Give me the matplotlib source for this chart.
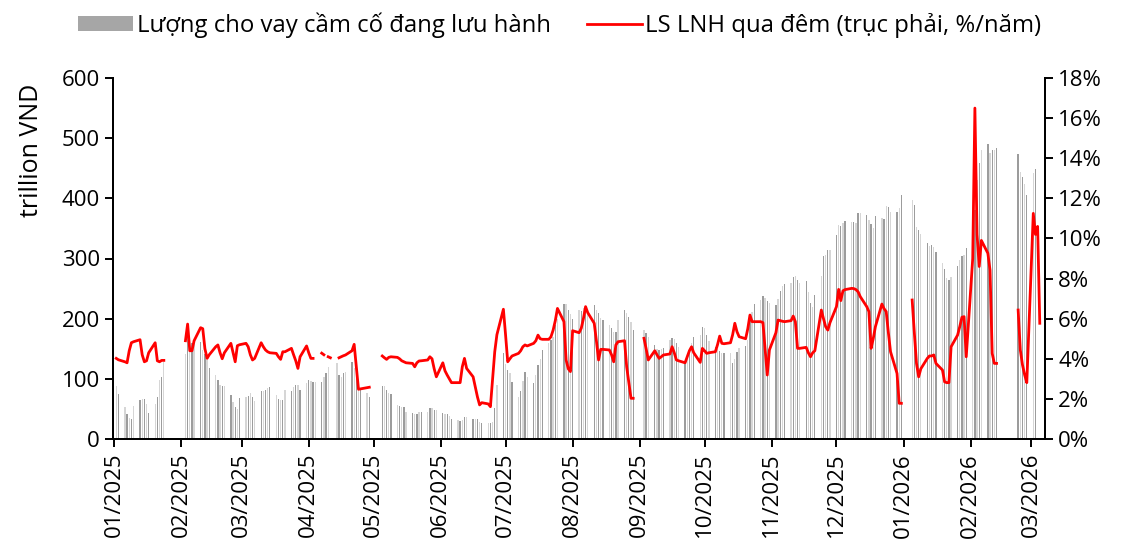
import numpy as np
import pandas as pd
import matplotlib
matplotlib.use('Agg')
import matplotlib.pyplot as plt
import matplotlib.dates as mdates
from matplotlib.patches import Patch
from matplotlib.lines import Line2D
from matplotlib.ticker import FuncFormatter

nan = np.nan

# Data: one value per business day of each month (nan = no data) ###########
months = ['2025-01', '2025-02', '2025-03', '2025-04', '2025-05', '2025-06',
          '2025-07', '2025-08', '2025-09', '2025-10', '2025-11', '2025-12',
          '2026-01', '2026-02', '2026-03']

# outstanding repo loans, trillion VND
loans = [
    [nan, 88, 75, 54, 42, 35, 33, 55, 65, 67, 66, 58, 43, 58, 69, 98, 103, 128, nan, nan, nan, nan, nan],
    [142, 176, 162, 159, 160, 162, 148, 142, 131, 118, 106, 98, 90, 88, 88, 73, 62, 54, 50, 68],
    [70, 71, 76, 70, 63, 80, 79, 81, 85, 86, 73, 66, 65, 65, 81, 80, 86, 90, 90, 81, 93],
    [98, 96, 95, 95, 94, 103, 110, 120, nan, 127, 106, 103, 110, 111, 128, 118, 113, 81, 81, 76, 70, nan],
    [nan, nan, 88, 88, 81, 77, 75, 56, 55, 54, 53, 45, 44, 42, 42, 45, 45, 45, 52, 51, 49, 49],
    [43, 42, 41, 38, 34, 32, 30, 31, 37, 36, 34, 33, 33, 29, 26, 26, 26, 29, 51, 90, 143],
    [125, 115, 110, 95, 70, 79, 96, 112, 103, 93, 106, 123, 133, 148, 160, 165, 170, 190, 200, 225, 224, 214, 208],
    [200, 214, 213, 218, 220, 214, 223, 215, 210, 201, 198, 189, 184, 178, 178, 198, 214, 209, 203, 195, 181],
    [nan, nan, 181, 176, 170, 156, 150, 148, 150, 151, 164, 168, 167, 160, 153, 130, 140, 150, 160, 170, 173, 186],
    [184, 173, 163, 153, 150, 146, 143, 143, 143, 127, 133, 145, 151, 154, 164, 203, 211, 224, 231, 237, 234, 230, 226],
    [222, 232, 246, 254, 258, 259, 270, 271, 264, 259, 263, 245, 226, 220, 239, 271, 304, 306, 314, 314],
    [339, 355, 354, 359, 362, 361, 360, 359, 375, 375, 372, 364, 357, 351, 370, 367, 365, 387, 385, 378, 378, 384, 405],
    [nan, nan, 397, 389, 353, 347, 341, 325, 320, 322, 319, 310, 293, 283, 267, 265, 270, 287, 297, 304, 306, 317],
    [330, 380, 430, 458, 481, 491, 475, 481, 480, 484, nan, nan, nan, nan, nan, 474, 444, 435, 424, 405],
    [442, 449, nan, nan, nan],
]

# overnight interbank rate, %/year
rates = [
    [nan, 4.02, 3.95, 3.85, 3.8, 4.4, 4.8, 4.85, 4.95, 4.2, 3.85, 3.9, 4.3, 4.8, 3.9, 3.85, 3.92, 3.92, nan, nan, nan, nan, nan],
    [4.9, 5.73, 4.4, 4.4, 4.9, 5.55, 5.5, 4.5, 4.02, 4.2, 4.6, 4.69, 4.3, 4.0, 4.3, 4.77, 4.3, 3.85, 4.65, 4.7],
    [4.77, 4.6, 4.2, 3.94, 4.02, 4.8, 4.6, 4.44, 4.35, 4.3, 4.27, 4.1, 3.97, 4.35, 4.35, 4.52, 4.2, 3.9, 3.52, 4.1, 4.64],
    [4.3, 4.02, 4.02, nan, 4.28, 4.2, nan, 4.1, 4.05, nan, 4.05, 4.1, 4.15, 4.19, 4.4, 4.72, 3.6, 2.48, 2.5, 2.56, 2.58, nan],
    [nan, nan, 4.14, 4.05, 3.97, 4.07, 4.1, 4.07, 4.0, 3.9, 3.85, 3.8, 3.77, 3.6, 3.8, 3.89, 3.9, 3.94, 4.1, 4.0, 3.5, 3.1],
    [3.8, 3.4, 3.19, 3.0, 2.81, 2.81, 2.81, 3.6, 4.02, 3.52, 3.1, 2.6, 2.1, 1.7, 1.81, 1.75, 1.61, 3.0, 4.35, 5.2, 6.47],
    [5.2, 3.85, 4.0, 4.14, 4.27, 4.4, 4.6, 4.69, 4.64, 4.77, 4.9, 5.18, 5.0, 4.97, 4.97, 5.1, 5.43, 5.9, 6.51, 5.85, 3.94, 3.5, 3.36],
    [5.4, 5.3, 5.52, 6.0, 6.6, 6.3, 5.77, 4.9, 3.94, 4.47, 4.47, 4.44, 4.2, 3.85, 4.69, 4.85, 4.9, 3.6, 2.8, 2.03, 2.03],
    [nan, nan, 5.02, 4.5, 3.94, 4.4, 4.2, 4.02, 4.1, 4.19, 4.24, 4.6, 4.3, 3.94, 3.9, 3.8, 4.1, 4.4, 4.6, 4.3, 3.82, 4.52],
    [4.4, 4.27, 4.3, 4.35, 4.7, 5.13, 4.77, 4.75, 4.8, 5.2, 5.77, 5.35, 5.1, 5.0, 5.5, 6.18, 5.85, 5.85, 5.85, 5.8, 4.5, 3.19, 4.44],
    [5.3, 5.93, 5.9, 5.87, 5.85, 5.9, 6.13, 5.85, 4.52, 4.52, 4.57, 4.3, 4.1, 4.3, 4.4, 6.43, 6.0, 5.6, 5.43, 5.8],
    [6.6, 7.46, 6.9, 7.39, 7.45, 7.51, 7.5, 7.45, 7.34, 7.1, 6.6, 6.35, 4.52, 5.0, 5.6, 6.73, 6.5, 6.35, 5.3, 4.35, 3.27, 1.78, 1.78],
    [nan, nan, 6.93, 5.3, 3.77, 3.1, 3.5, 4.02, 4.14, 4.14, 4.19, 3.77, 3.44, 2.85, 2.81, 2.81, 4.6, 5.18, 5.6, 6.07, 6.1, 4.1],
    [9.0, 16.5, 10.2, 8.6, 9.9, 9.26, 8.42, 4.27, 3.77, 3.77, nan, nan, nan, nan, nan, 6.43, 4.44, 3.7, 3.2, 2.81],
    [11.25, 10.2, 10.6, 5.77, nan],
]

legend_labels = ['Lượng cho vay cầm cố đang lưu hành', 'LS LNH qua đêm (trục phải, %/năm)']

dates = []
for m, vals in zip(months, loans):
    start = pd.Timestamp(m + '-01')
    days = pd.bdate_range(start, start + pd.offsets.MonthEnd(0))[:len(vals)]
    dates.extend(days)
dates = pd.DatetimeIndex(dates)
loan_vals = np.array([v for vals in loans for v in vals], dtype=float)
rate_vals = np.array([v for vals in rates for v in vals], dtype=float)

plt.rcParams['font.family'] = ['Open Sans', 'DejaVu Sans']
fs = 16

fig = plt.figure(figsize=(11.22, 5.48), dpi=100)
ax = fig.add_axes([113 / 1122, 1 - 439 / 548, (1045 - 113) / 1122, (439 - 78) / 548])
ax2 = ax.twinx()

colors = ['#9c9c9c' if i % 2 == 0 else '#d6d6d6' for i in range(len(dates))]
ax.bar(dates, loan_vals, width=0.6, color=colors, linewidth=0)
ax2.plot(dates, rate_vals, color='#ff0000', linewidth=2.0)

ax.set_ylim(0, 600)
ax.set_yticks(np.arange(0, 601, 100))
ax2.set_ylim(0, 18)
ax2.set_yticks(np.arange(0, 19, 2))
ax2.yaxis.set_major_formatter(FuncFormatter(lambda v, p: f'{v:.0f}%'))

ax.set_xlim(pd.Timestamp('2024-12-31 12:00'), pd.Timestamp('2026-03-07 10:00'))
ax.xaxis.set_major_locator(mdates.MonthLocator())
ax.xaxis.set_major_formatter(mdates.DateFormatter('%m/%Y'))

for a in (ax, ax2):
    a.spines['top'].set_visible(False)
    for s in ('left', 'right', 'bottom'):
        a.spines[s].set_linewidth(1.4)
        a.spines[s].set_color('black')
    a.tick_params(axis='both', direction='out', length=6, width=1.4, labelsize=fs)

ax.tick_params(axis='x', rotation=90, pad=4)
ax.set_ylabel('trillion VND', fontsize=18)
ax.yaxis.set_label_coords(-0.074, 0.80)

handles = [Patch(facecolor='#a6a6a6', edgecolor='none'),
           Line2D([0], [0], color='#ff0000', linewidth=2.0)]
fig.legend(handles, legend_labels, loc='center', bbox_to_anchor=(0.499, 0.954),
           ncol=2, frameon=False, fontsize=17.2, handlelength=2.3, handleheight=0.6,
           handletextpad=0.15, columnspacing=1.5)

fig.savefig('out.png', dpi=100)
